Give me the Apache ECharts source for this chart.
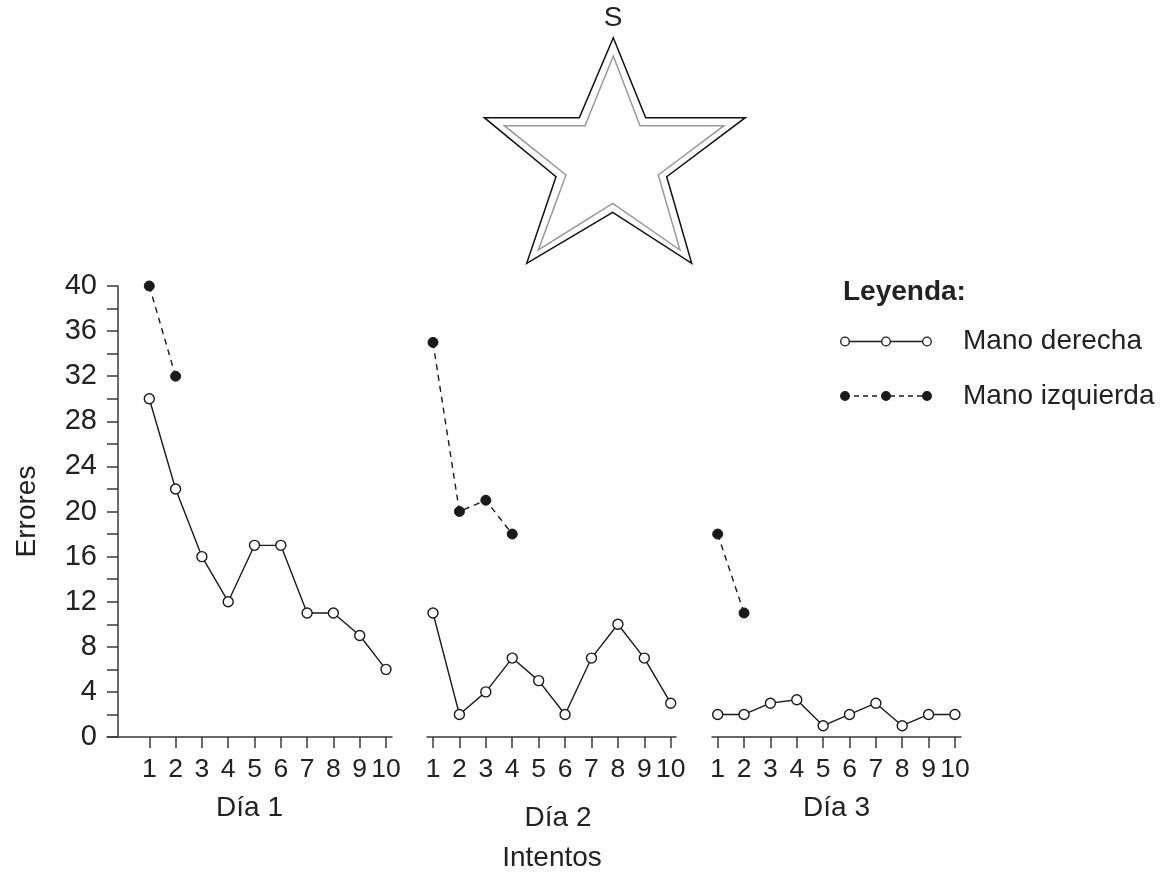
<!DOCTYPE html>
<html>
<head>
<meta charset="utf-8">
<script src="https://cdn.jsdelivr.net/npm/echarts@6/dist/echarts.min.js"></script>
<style>
html,body{margin:0;padding:0;background:#fff;}
#chart{width:1168px;height:872px;}
</style>
</head>
<body>
<div id="chart"></div>
<script>
// ---- data ----
const trials = [1, 2, 3, 4, 5, 6, 7, 8, 9, 10];
const dayNames = ['Día 1', 'Día 2', 'Día 3'];
const seriesNames = ['Mano derecha', 'Mano izquierda'];
const day1Right = [30, 22, 16, 12, 17, 17, 11, 11, 9, 6];
const day1Left = [40, 32];
const day2Right = [11, 2, 4, 7, 5, 2, 7, 10, 7, 3];
const day2Left = [35, 20, 21, 18];
const day3Right = [2, 2, 3, 3.3, 1, 2, 3, 1, 2, 2];
const day3Left = [18, 11];
const yMin = 0, yMax = 40, yStep = 4;
const yTitle = 'Errores';
const xTitle = 'Intentos';
const legendTitle = 'Leyenda:';
const startLabel = 'S';

// ---- build ----
const FONT = 'Liberation Sans, Arial, sans-serif';
const INK = '#1a1a1a';
const AX = '#3a3a3a';
const TXT = '#222';
const pairs = arr => arr.map((v, i) => [trials[i], v]);

const grids = [
  { left: 107, top: 286, width: 285, height: 451 },
  { left: 427, top: 286, width: 249, height: 451 },
  { left: 712, top: 286, width: 249, height: 451 }
];
const xRanges = [[-0.608, 10.228], [0.773, 10.2], [0.784, 10.23]];
const nameGaps = [57, 67, 57];

const xAxes = grids.map((g, i) => ({
  type: 'value', gridIndex: i,
  min: xRanges[i][0], max: xRanges[i][1],
  name: dayNames[i], nameLocation: 'middle', nameGap: nameGaps[i],
  nameTextStyle: { fontFamily: FONT, fontSize: 28, color: TXT, padding: i === 1 ? [0, 0, 0, 13] : 0 },
  axisLine: { onZero: false, lineStyle: { color: AX, width: 1.5 } },
  axisTick: { show: true, inside: false, length: 11, customValues: trials, lineStyle: { color: AX, width: 1.5 } },
  axisLabel: { customValues: trials, margin: 19, fontFamily: FONT, fontSize: 26.5, color: TXT },
  splitLine: { show: false }
}));

const yAxes = grids.map((g, i) => ({
  type: 'value', gridIndex: i, min: yMin, max: yMax, interval: yStep,
  show: i === 0,
  offset: -11,
  name: i === 0 ? yTitle : '', nameLocation: 'middle', nameGap: 77,
  nameTextStyle: { fontFamily: FONT, fontSize: 28, color: TXT },
  axisLine: { show: true, onZero: false, lineStyle: { color: AX, width: 1.5 } },
  axisTick: { show: true, inside: false, length: 11, lineStyle: { color: AX, width: 1.5 } },
  minorTick: { show: true, splitNumber: 2, length: 11, lineStyle: { color: AX, width: 1.5 } },
  axisLabel: { margin: 21, fontFamily: FONT, fontSize: 29, color: TXT },
  splitLine: { show: false }, minorSplitLine: { show: false }
}));

function rightSeries(data, idx) {
  return {
    name: seriesNames[0], type: 'line', xAxisIndex: idx, yAxisIndex: idx,
    data: pairs(data), symbol: 'circle', symbolSize: 10, showSymbol: true,
    lineStyle: { color: INK, width: 1.4 },
    itemStyle: { color: '#fff', borderColor: INK, borderWidth: 1.4 },
    z: 3
  };
}
function leftSeries(data, idx) {
  return {
    name: seriesNames[1], type: 'line', xAxisIndex: idx, yAxisIndex: idx,
    data: pairs(data), symbol: 'circle', symbolSize: 10, showSymbol: true,
    lineStyle: { color: INK, width: 1.4, type: [6, 5] },
    itemStyle: { color: INK, borderColor: INK, borderWidth: 1 },
    z: 3
  };
}

// star outlines
const outerStar = [[613.3, 37.7], [645.7, 117.7], [745.3, 117.7], [666.7, 176.7], [691.7, 263.3], [612.7, 212.3], [526.7, 263.3], [556, 176.7], [484.3, 117.7], [579.3, 117.7]];
const innerStar = [[613.3, 56], [640, 125.7], [724, 125.7], [658.3, 175], [680, 250], [612.7, 203.3], [538.3, 250], [566, 175], [504.3, 125.7], [585, 125.7]];

const legendX = [845, 886, 927];
const legendRows = [341.5, 396];
const legendGraphics = [];
legendGraphics.push({ type: 'text', x: 843, y: 292, style: { text: legendTitle, font: 'bold 28px ' + FONT, fill: TXT, verticalAlign: 'middle' } });
legendRows.forEach((y, r) => {
  legendGraphics.push({ type: 'line', shape: { x1: legendX[0], y1: y, x2: legendX[2], y2: y },
    style: { stroke: INK, lineWidth: 1.4, lineDash: r === 1 ? [5, 4] : null }, z: 1 });
  legendX.forEach(x => legendGraphics.push({ type: 'circle', shape: { cx: x, cy: y, r: 4.3 },
    style: { fill: r === 0 ? '#fff' : INK, stroke: INK, lineWidth: 1.3 }, z: 2 }));
  legendGraphics.push({ type: 'text', x: 963, y: y, style: { text: seriesNames[r], font: '28px ' + FONT, fill: TXT, verticalAlign: 'middle' } });
});

const option = {
  animation: false,
  backgroundColor: '#fff',
  grid: grids,
  xAxis: xAxes,
  yAxis: yAxes,
  series: [
    rightSeries(day1Right, 0), leftSeries(day1Left, 0),
    rightSeries(day2Right, 1), leftSeries(day2Left, 1),
    rightSeries(day3Right, 2), leftSeries(day3Left, 2)
  ],
  graphic: [
    { type: 'polygon', shape: { points: outerStar }, style: { fill: 'none', stroke: '#111', lineWidth: 1.5 } },
    { type: 'polygon', shape: { points: innerStar }, style: { fill: 'none', stroke: '#999', lineWidth: 1.5 } },
    { type: 'text', x: 613, y: 18, style: { text: startLabel, font: '28px ' + FONT, fill: TXT, align: 'center', verticalAlign: 'middle' } },
    { type: 'text', x: 552, y: 858, style: { text: xTitle, font: '28px ' + FONT, fill: TXT, align: 'center', verticalAlign: 'middle' } }
  ].concat(legendGraphics)
};

const chart = echarts.init(document.getElementById('chart'), null, { renderer: 'canvas' });
chart.setOption(option);
</script>
</body>
</html>
